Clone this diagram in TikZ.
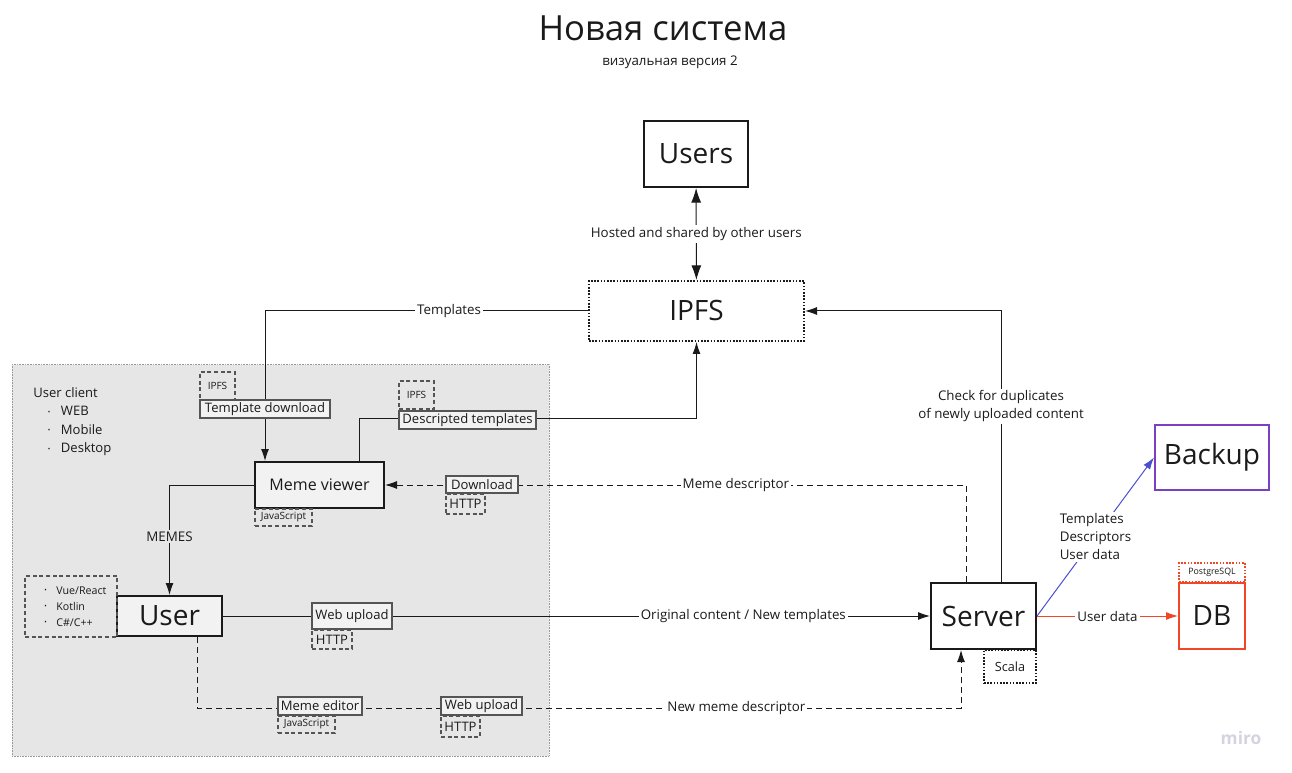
\documentclass[tikz,border=0pt]{standalone}
\usepackage{fontspec}
\setmainfont{Open Sans}
\usetikzlibrary{arrows.meta,calc}
\definecolor{ink}{HTML}{1A1A1A}
\definecolor{clientbg}{HTML}{E6E6E6}
\definecolor{boxfill}{HTML}{F2F2F2}
\definecolor{tagline}{HTML}{555555}
\definecolor{backupviolet}{HTML}{7B3FC4}
\definecolor{backupblue}{HTML}{4A4FCF}
\definecolor{dbred}{HTML}{F24726}
\definecolor{miromark}{HTML}{D3D4DF}
\newcommand{\clbul}{\hspace*{11pt}\makebox[9.75pt][l]{\raisebox{1pt}{\tiny\textbullet}}}
\newcommand{\stbul}{\hspace*{9pt}\makebox[9pt][l]{\raisebox{1pt}{\tiny\textbullet}}}
\tikzset{%
  >={Latex[width=6pt,length=9pt]},
  % Specifications for style of nodes:
          base/.style = {rectangle, draw=ink, line width=1.5pt, inner sep=0pt,
                         text=ink, text centered},
        bigbox/.style = {base, fill=white, font=\fontsize{21}{24}\selectfont},
     clientbox/.style = {base, fill=boxfill},
        dotbox/.style = {base, dash pattern=on 1.2pt off 1.2pt},
      labelbox/.style = {base, draw=tagline, line width=1pt, fill=boxfill,
                         font=\fontsize{9.8}{11}\selectfont},
        tagbox/.style = {base, draw=tagline, line width=0.9pt,
                         dash pattern=on 3pt off 2pt, font=\fontsize{7.5}{9}\selectfont},
           lbl/.style = {fill=white, inner sep=1.5pt, text=ink,
                         font=\fontsize{10}{13.5}\selectfont},
          link/.style = {draw=ink, line width=0.75pt},
      dashlink/.style = {link, dash pattern=on 4.5pt off 3pt},
}

\begin{document}
\begin{tikzpicture}[x=0.75pt, y=-0.75pt]
  \useasboundingbox (0,0) rectangle (1292,773);
  % Specification of nodes (position, etc.)
  \node (client) [rectangle, fill=clientbg, draw=black!40, line width=0.75pt,
    dash pattern=on 0.6pt off 0.6pt, minimum width=402.75pt, minimum height=293.25pt]
    at (280.5,560.5) {};
  \node (title) [anchor=base, text=ink, font=\fontsize{26}{30}\selectfont] at (663,41) {Новая система};
  \node (subtitle) [anchor=base, text=ink, font=\fontsize{10}{12}\selectfont] at (670,66) {визуальная версия 2};
  \node (users)  [bigbox, minimum width=78pt, minimum height=49.5pt] at (696,154) {Users};
  \node (ipfs)   [bigbox, dotbox, minimum width=161.25pt, minimum height=45pt] at (696.5,311) {IPFS};
  \node (viewer) [clientbox, minimum width=96.75pt, minimum height=34.5pt,
                  font=\fontsize{12}{14}\selectfont] at (319.5,485) {Meme viewer};
  \node (user)   [clientbox, minimum width=78.75pt, minimum height=30pt,
                  font=\fontsize{21}{24}\selectfont] at (169.5,616) {User};
  \node (server) [bigbox, minimum width=78.75pt, minimum height=49.5pt] at (983.5,616) {Server};
  \node (backup) [bigbox, draw=backupviolet, minimum width=85.5pt, minimum height=48.75pt] at (1212,457.5) {Backup};
  \node (db)     [bigbox, draw=dbred, minimum width=49.5pt, minimum height=49.5pt] at (1212,616) {DB};
  \node (clientinfo) [anchor=north west, align=left, text=ink, inner sep=0pt,
    font=\fontsize{9.8}{13.9}\selectfont] at (33,387)
    {User client\\\clbul WEB\\\clbul Mobile\\\clbul Desktop};
  % Specification of lines between nodes specified above
  \draw[<->, link, >={Latex[width=7.5pt,length=11pt]}] (users) -- (ipfs)
    node[lbl, midway] {Hosted and shared by other users};
  \draw[->, link] (ipfs.west) -| ($(viewer.north west)+(11,0)$) node[lbl, pos=.215] {Templates};
  \draw[->, link] ($(viewer.north east)+(-26,0)$) -- ++(0,-42) -| (ipfs.south);
  \draw[->, dashlink] ($(server.north)+(-17.5,0)$) |- (viewer.east)
    node[lbl, pos=.698] {Meme descriptor};
  \draw[->, link] ($(server.north)+(17.5,0)$) |- (ipfs.east)
    node[lbl, pos=.324, align=center] {Check for duplicates\\of newly uploaded content};
  \draw[->, link] (viewer.west) -| (user.north) node[lbl, fill=clientbg, pos=.734] {MEMES};
  \draw[->, link] (user) -- (server) node[lbl, pos=.736] {Original content / New templates};
  \draw[->, dashlink] ($(user.south)+(27.5,0)$) |- ($(server.south)+(-22.5,58)$)
    node[lbl, pos=.853] {New meme descriptor} -- ($(server.south)+(-22.5,0)$);
  \draw[->, link, draw=backupblue] (server.east) -- (backup.west)
    node[lbl, midway, align=left] {Templates\\Descriptors\\User data};
  \draw[->, link, draw=dbred] (server.east) -- (db.west) node[lbl, midway] {User data};
  % Tags and boxes on the lines
  \node (ipfstag)  [tagbox, minimum width=26.25pt, minimum height=21pt] at (217.5,386) {IPFS};
  \node (tdl)      [labelbox, minimum width=97.5pt, minimum height=13.5pt] at (265,409) {Template download};
  \node (ipfstag2) [tagbox, minimum width=26.25pt, minimum height=21pt] at (416.5,395) {IPFS};
  \node (dtpl)     [labelbox, minimum width=102.75pt, minimum height=13.5pt] at (467.5,420) {Descripted templates};
  \node (jstag)    [tagbox, minimum width=42.75pt, minimum height=12.75pt] at (283.5,517.5) {JavaScript};
  \node (dl)       [labelbox, minimum width=54pt, minimum height=12.75pt] at (482,484.5) {Download};
  \node (httptag)  [tagbox, minimum width=29.25pt, minimum height=15pt,
                    font=\fontsize{9.8}{11}\selectfont] at (465.5,504) {HTTP};
  \node (stack)    [tagbox, minimum width=69pt, minimum height=45.75pt, align=left,
                    text width=58pt, font=\fontsize{8}{12}\selectfont] at (71,606.5)
                    {\stbul Vue/React\\\stbul Kotlin\\\stbul C\#/C++};
  \node (wup)      [labelbox, minimum width=60pt, minimum height=19.5pt] at (352,616) {Web upload};
  \node (httptag2) [tagbox, minimum width=30pt, minimum height=14.25pt,
                    font=\fontsize{9.8}{11}\selectfont] at (332,639.5) {HTTP};
  \node (medit)    [labelbox, minimum width=63pt, minimum height=13.5pt] at (320,706) {Meme editor};
  \node (jstag2)   [tagbox, minimum width=42.75pt, minimum height=12.75pt] at (306.5,724.5) {JavaScript};
  \node (wup2)     [labelbox, minimum width=60.75pt, minimum height=13.5pt] at (481.5,706) {Web upload};
  \node (httptag3) [tagbox, minimum width=29.25pt, minimum height=15.75pt,
                    font=\fontsize{9.8}{11}\selectfont] at (460.5,726.5) {HTTP};
  \node (scala)    [dotbox, fill=white, minimum width=39pt, minimum height=24.75pt,
                    font=\fontsize{9.5}{11}\selectfont] at (1010,666.5) {Scala};
  \node (pgtag)    [dotbox, draw=dbred, fill=white, minimum width=49.5pt, minimum height=14.25pt,
                    font=\fontsize{6.6}{8}\selectfont] at (1212,572.5) {PostgreSQL};
  \node (miro)     [text=miromark, font=\bfseries\fontsize{13}{14}\selectfont] at (1241,738) {miro};
\end{tikzpicture}
\end{document}
